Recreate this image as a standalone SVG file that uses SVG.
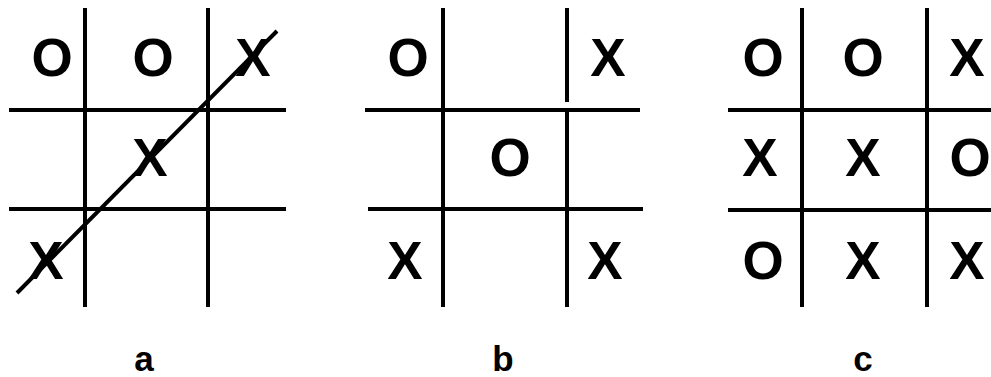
<svg xmlns="http://www.w3.org/2000/svg" width="991" height="377" viewBox="0 0 991 377">
<style>
line{stroke:#000;stroke-width:4;stroke-linecap:butt}
.m{font-family:"Liberation Sans",Arial,sans-serif;font-weight:bold;font-size:53px;text-anchor:middle;fill:#000}
.l{font-family:"Liberation Sans",Arial,sans-serif;font-weight:bold;font-size:35px;text-anchor:middle;fill:#000}
</style>
<rect width="991" height="377" fill="#fff"/>
<g id="board-a">
<line x1="85" y1="8" x2="85" y2="307"/>
<line x1="208" y1="8" x2="208" y2="307"/>
<line x1="9" y1="110" x2="286" y2="110"/>
<line x1="9" y1="209" x2="286" y2="209"/>
<text class="m" x="52" y="76">O</text>
<text class="m" x="153" y="76">O</text>
<text class="m" x="253" y="76">X</text>
<text class="m" x="150" y="176">X</text>
<text class="m" x="46" y="279">X</text>
<line x1="17" y1="293" x2="277" y2="31"/>
<text class="l" x="144" y="371">a</text>
</g>
<g id="board-b">
<line x1="443" y1="8" x2="443" y2="307"/>
<line x1="567" y1="8" x2="567" y2="102"/>
<line x1="567" y1="110" x2="567" y2="307"/>
<line x1="365" y1="110" x2="640" y2="110"/>
<line x1="368" y1="209" x2="643" y2="209"/>
<text class="m" x="408" y="76">O</text>
<text class="m" x="608" y="76">X</text>
<text class="m" x="510" y="176">O</text>
<text class="m" x="405" y="279">X</text>
<text class="m" x="605" y="279">X</text>
<text class="l" x="503" y="371">b</text>
</g>
<g id="board-c">
<line x1="802" y1="8" x2="802" y2="307"/>
<line x1="927" y1="8" x2="927" y2="307"/>
<line x1="728" y1="110" x2="991" y2="110"/>
<line x1="728" y1="210" x2="991" y2="210"/>
<text class="m" x="763" y="76">O</text>
<text class="m" x="863" y="76">O</text>
<text class="m" x="967" y="76">X</text>
<text class="m" x="760" y="176">X</text>
<text class="m" x="863" y="176">X</text>
<text class="m" x="970" y="176">O</text>
<text class="m" x="763" y="279">O</text>
<text class="m" x="863" y="279">X</text>
<text class="m" x="967" y="279">X</text>
<text class="l" x="863" y="371">c</text>
</g>
</svg>
